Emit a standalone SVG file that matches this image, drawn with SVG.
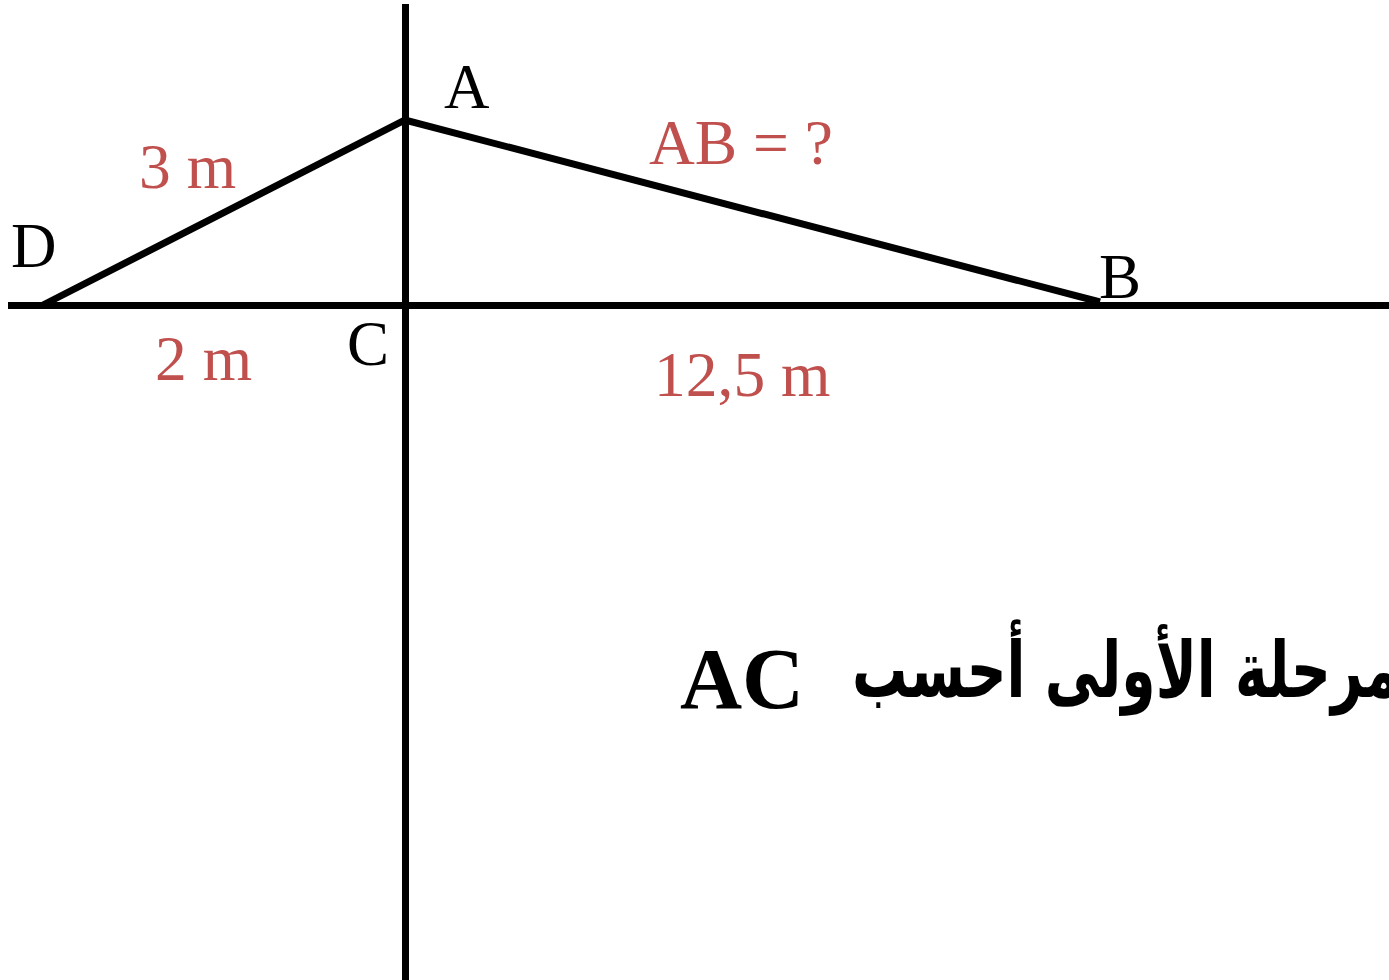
<svg xmlns="http://www.w3.org/2000/svg" width="1389" height="980" viewBox="0 0 1389 980">
<style>
.ln{stroke:#000;stroke-width:7;fill:none;stroke-linecap:butt;stroke-linejoin:miter}
.lbl{font-family:"Liberation Serif","Times New Roman",serif;font-size:63px;fill:#000}
.dim{font-family:"Liberation Serif","Times New Roman",serif;font-size:63.5px;fill:#c0504d}
.title{font-family:"Liberation Serif","DejaVu Sans",serif;font-weight:bold;font-size:86px;fill:#000}
.ar{font-family:"DejaVu Sans","Noto Sans",sans-serif;font-weight:bold;font-size:78px;fill:#000}
</style>
<rect width="1389" height="980" fill="#fff"/>
<g id="connectors">
<line class="ln" x1="405.5" y1="4" x2="405.5" y2="980"/>
<line class="ln" x1="8" y1="305.5" x2="1389" y2="305.5"/>
<polyline class="ln" points="43,305 405,120 1100,302"/>
</g>
<g id="node-A"><text class="lbl" x="444" y="108">A</text></g>
<g id="node-B"><text class="lbl" x="1099" y="298">B</text></g>
<g id="node-C"><text class="lbl" x="347" y="365">C</text></g>
<g id="node-D"><text class="lbl" x="11" y="267">D</text></g>
<g id="labels">
<text class="dim" x="139" y="188">3 m</text>
<text class="dim" x="155" y="380">2 m</text>
<text class="dim" x="649" y="164">AB = ?</text>
<text class="dim" x="654" y="396">12,5 m</text>
</g>
<g id="title">
<text class="title" x="680" y="708">AC</text>
<text class="ar" x="852" y="697" textLength="590" lengthAdjust="spacingAndGlyphs">المرحلة الأولى أحسب</text>
</g>
</svg>
